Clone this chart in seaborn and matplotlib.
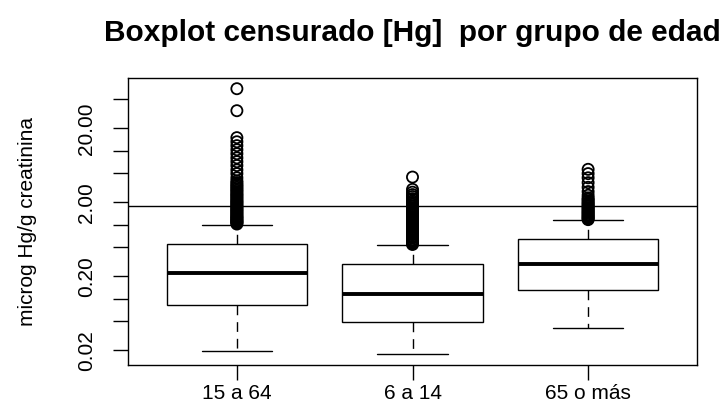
import numpy as np
import pandas as pd
import matplotlib
matplotlib.use("Agg")
import matplotlib.pyplot as plt
from matplotlib.ticker import NullLocator
import seaborn as sns

# Age groups and box summaries (microg Hg/g creatinina)
grupos = ["15 a 64", "6 a 14", "65 o más"]
bigote_inf = [0.0196, 0.0177, 0.0406]
cuartil_1 = [0.082, 0.049, 0.129]
mediana = [0.22, 0.114, 0.297]
cuartil_3 = [0.54, 0.29, 0.645]
bigote_sup = [1.0, 0.53, 1.15]

# Values beyond the upper whisker
atipicos_15_64 = [68.8, 34.7, 15.0, 13.2, 11.7, 10.3, 9.1, 8.0, 7.1, 6.3, 5.5,
                  4.9, 4.3, 3.9, 3.7, 3.5, 3.35, 3.2, 3.05, 2.92, 2.8, 2.66,
                  2.55, 2.45, 2.35, 2.25, 2.15, 2.07, 2.0, 1.92, 1.85, 1.78,
                  1.72, 1.66, 1.6, 1.55, 1.5, 1.44, 1.4, 1.35, 1.3, 1.27, 1.23,
                  1.2, 1.16, 1.13, 1.1, 1.08, 1.05, 1.02]
atipicos_6_14 = [4.4, 3.0, 2.75, 2.55, 2.4, 2.25, 2.1, 2.0, 1.9, 1.8, 1.7,
                 1.62, 1.55, 1.48, 1.41, 1.35, 1.29, 1.23, 1.18, 1.13, 1.08,
                 1.04, 1.0, 0.96, 0.92, 0.88, 0.85, 0.82, 0.79, 0.76, 0.73,
                 0.7, 0.68, 0.66, 0.63, 0.61, 0.59, 0.57, 0.555, 0.54]
atipicos_65_mas = [5.6, 4.9, 4.3, 3.7, 3.2, 2.8, 2.5, 2.3, 2.2, 2.1, 2.0,
                   1.92, 1.84, 1.77, 1.7, 1.64, 1.58, 1.52, 1.47, 1.42, 1.37,
                   1.32, 1.28, 1.24, 1.2, 1.17]

umbral = 1.8
ticks_y = [0.02, 0.05, 0.1, 0.2, 0.5, 1, 2, 5, 10, 20, 50]
etiquetas_y = ["0.02", "", "", "0.20", "", "", "2.00", "", "", "20.00", ""]

titulo = "Boxplot censurado [Hg]  por grupo de edad"
etiqueta_y = "microg Hg/g creatinina"

sns.set_theme(style="white")
plt.rcParams["font.family"] = ["Liberation Sans", "DejaVu Sans"]

# Long table of the five-number summaries, one row per statistic
resumen = pd.DataFrame({
    "grupo": np.repeat(grupos, 5),
    "valor": np.column_stack([bigote_inf, cuartil_1, mediana,
                              cuartil_3, bigote_sup]).ravel(),
})
atipicos = pd.DataFrame({
    "grupo": (["15 a 64"] * len(atipicos_15_64)
              + ["6 a 14"] * len(atipicos_6_14)
              + ["65 o más"] * len(atipicos_65_mas)),
    "valor": atipicos_15_64 + atipicos_6_14 + atipicos_65_mas,
})

fig = plt.figure(figsize=(7.28, 4.16), dpi=100)
ax = fig.add_axes([128 / 728, 1 - 365 / 416, 569 / 728, 287 / 416])

sns.boxplot(data=resumen, x="grupo", y="valor", order=grupos, ax=ax,
            whis=(0, 100), width=0.8, log_scale=True, color="white",
            linecolor="black", linewidth=1.0, showfliers=False,
            medianprops={"linewidth": 2.8, "color": "black"},
            whiskerprops={"linestyle": (0, (7, 5)), "linewidth": 1.0},
            capprops={"linewidth": 1.0})

ax.axhline(umbral, color="black", linewidth=1.0, zorder=1.5)

sns.stripplot(data=atipicos, x="grupo", y="valor", order=grupos, ax=ax,
              jitter=False, log_scale=True, color="black", facecolor="none",
              edgecolor="black", linewidth=1.3, size=8)

ax.set_ylim(0.0127, 96)
ax.set_xlim(-0.62, 2.62)
ax.set_yticks(ticks_y)
ax.set_yticklabels(etiquetas_y, rotation=90, va="center")
ax.yaxis.set_minor_locator(NullLocator())
ax.set_xlabel("")
ax.set_ylabel("")

ax.tick_params(axis="both", direction="out", length=11, width=1,
               color="black", labelcolor="black", labelsize=15,
               left=True, bottom=True)
ax.tick_params(axis="y", pad=12)
ax.tick_params(axis="x", pad=3)
for s in ax.spines.values():
    s.set_color("black")
    s.set_linewidth(1.0)

fig.text(412.5 / 728, 1 - 41 / 416, titulo, ha="center", va="baseline",
         fontsize=21.5, fontweight="bold", color="black")
fig.text(28 / 728, 1 - 221.5 / 416, etiqueta_y, rotation=90,
         ha="center", va="center", fontsize=15, color="black")

fig.savefig("out.png", dpi=100, facecolor="white")
